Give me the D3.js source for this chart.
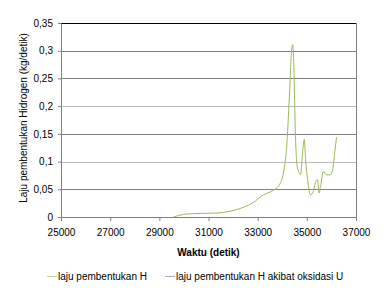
<!DOCTYPE html>
<html>
<head>
<meta charset="utf-8">
<script src="https://cdn.jsdelivr.net/npm/d3@7"></script>
<style>
  body { margin: 0; background: #fff; }
  text { font-family: 'Liberation Sans', Arial, sans-serif; fill: #000; }
</style>
</head>
<body>
<div id="chart"></div>
<script>
const times = [29570, 30110, 30700, 31330, 31880, 32420, 32820, 33230, 33500, 33700, 33910, 34070, 34180, 34290, 34380, 34425, 34480, 34530, 34610, 34700, 34750, 34815, 34895, 34950, 35030, 35150, 35260, 35370, 35440, 35495, 35560, 35670, 35800, 35940, 36050, 36130, 36210];
const rateH = [0, 0.0054, 0.0065, 0.0072, 0.0103, 0.0175, 0.026, 0.040, 0.045, 0.050, 0.060, 0.085, 0.127, 0.217, 0.301, 0.311, 0.259, 0.157, 0.091, 0.079, 0.077, 0.110, 0.140, 0.103, 0.067, 0.040, 0.046, 0.065, 0.067, 0.043, 0.055, 0.082, 0.076, 0.076, 0.085, 0.115, 0.144];
const rateHU = [];
const xTicks = [25000, 27000, 29000, 31000, 33000, 35000, 37000];
const yTicks = [0, 0.05, 0.1, 0.15, 0.2, 0.25, 0.3, 0.35];
const seriesNames = ['laju pembentukan H', 'laju pembentukan H akibat oksidasi U'];
const seriesColors = ['#9bbb59', '#8064a2'];

const width = 384, height = 300;
const margin = { top: 23, right: 28, bottom: 83, left: 61 };
const w = width - margin.left - margin.right;
const h = height - margin.top - margin.bottom;

const svg = d3.select('#chart').append('svg')
  .attr('width', width).attr('height', height);
const g = svg.append('g').attr('transform', `translate(${margin.left},${margin.top})`);

const x = d3.scaleLinear().domain([25000, 37000]).range([0, w]);
const y = d3.scaleLinear().domain([0, 0.35]).range([h, 0]);
const fmt = d => d3.format('.2~f')(d).replace('.', ',');

// grid
g.append('g').selectAll('line').data(yTicks.slice(1)).join('line')
  .attr('x1', 0).attr('x2', w)
  .attr('y1', d => Math.round(y(d)) + 0.5).attr('y2', d => Math.round(y(d)) + 0.5)
  .attr('stroke', d => d === 0.35 ? '#000' : (d === 0.2 || d === 0.1 ? '#bdbdbd' : '#808080'))
  .attr('stroke-width', 1);

// right border
g.append('line').attr('x1', w + 0.5).attr('x2', w + 0.5).attr('y1', 0).attr('y2', h)
  .attr('stroke', '#808080');

const xAxis = g.append('g').attr('transform', `translate(0,${h})`)
  .call(d3.axisBottom(x).tickValues(xTicks).tickFormat(d3.format('d')).tickSize(4).tickSizeOuter(0));
const yAxis = g.append('g')
  .call(d3.axisLeft(y).tickValues(yTicks).tickFormat(fmt).tickSize(3).tickSizeOuter(0));
[xAxis, yAxis].forEach(a => {
  a.select('.domain').attr('stroke', '#808080');
  a.selectAll('.tick line').attr('stroke', '#808080');
  a.selectAll('text').style('font-size', '10px').attr('fill', '#000');
});
xAxis.selectAll('text').attr('dy', '1.2em');
yAxis.selectAll('text').attr('x', -8);

const line = d3.line().x((d, i) => x(times[i])).y(d => y(d)).curve(d3.curveMonotoneX);
g.append('path').datum(rateH)
  .attr('fill', 'none').attr('stroke', seriesColors[0]).attr('stroke-width', 1)
  .attr('d', line);
g.append('path').datum(rateHU)
  .attr('fill', 'none').attr('stroke', seriesColors[1]).attr('stroke-width', 1)
  .attr('d', line);

// axis titles
svg.append('text')
  .attr('x', margin.left + w / 2).attr('y', 256)
  .attr('text-anchor', 'middle').style('font-size', '10px').style('font-weight', 'bold')
  .text('Waktu (detik)');
svg.append('text')
  .attr('transform', `translate(27,${margin.top + h / 2 - 2}) rotate(-90)`)
  .attr('text-anchor', 'middle').style('font-size', '10px')
  .text('Laju pembentukan Hidrogen (kg/detik)');

// legend
const legendX = [47, 165];
const legend = svg.append('g').selectAll('g').data(seriesNames).join('g')
  .attr('transform', (d, i) => `translate(${legendX[i]},276)`);
legend.append('line').attr('x1', 0).attr('x2', 10).attr('y1', 0.5).attr('y2', 0.5)
  .attr('stroke', (d, i) => i === 0 ? '#c4d79b' : '#b3a2c7');
legend.append('text').attr('x', 11).attr('y', 4).style('font-size', '10px').text(d => d);
</script>
</body>
</html>
